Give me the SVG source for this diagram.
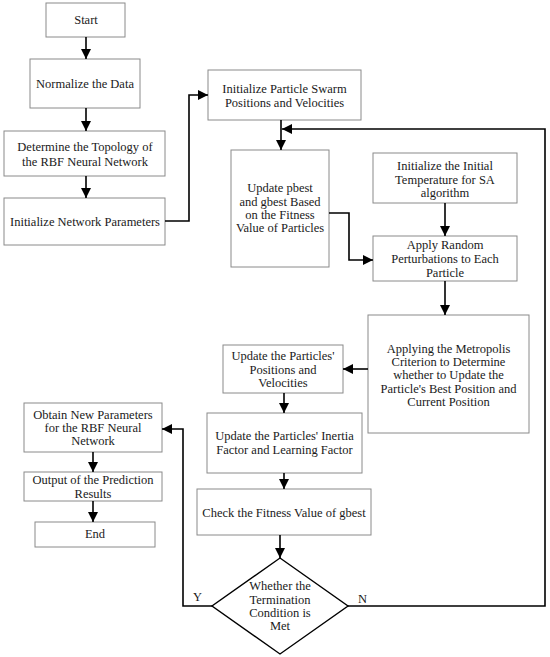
<svg xmlns="http://www.w3.org/2000/svg" width="550" height="657" viewBox="0 0 550 657">
<style>
.box{fill:#fff;stroke:#8a8a8a;stroke-width:1}
.t{font-family:"Liberation Serif","DejaVu Serif",serif;font-size:12.5px;fill:#1a1a1a;text-anchor:middle}
.c{fill:none;stroke:#000;stroke-width:1.6}
.lbl{font-family:"Liberation Serif","DejaVu Serif",serif;font-size:12.5px;fill:#1a1a1a}
</style>
<defs>
<marker id="ah" markerUnits="userSpaceOnUse" markerWidth="12" markerHeight="10" refX="10" refY="5" orient="auto">
<path d="M0,0 L10,5 L0,10 Z" fill="#000"/>
</marker>
</defs>
<rect width="550" height="657" fill="#fff"/>
<g id="start"><rect class="box" x="46" y="3" width="79" height="34"/><text class="t" x="86" y="24">Start</text></g>
<g id="normalize"><rect class="box" x="30" y="59" width="110" height="49"/><text class="t" x="85" y="88">Normalize the Data</text></g>
<g id="topology"><rect class="box" x="4" y="131" width="161" height="45"/><text class="t" x="85" y="151">Determine the Topology of</text><text class="t" x="85" y="166">the RBF Neural Network</text></g>
<g id="initnet"><rect class="box" x="4" y="198" width="161" height="47"/><text class="t" x="85" y="226">Initialize Network Parameters</text></g>
<g id="initpso"><rect class="box" x="208" y="70" width="153" height="50"/><text class="t" x="284.5" y="92.5">Initialize Particle Swarm</text><text class="t" x="284.5" y="106.5">Positions and Velocities</text></g>
<g id="pbest"><rect class="box" x="231" y="150" width="98" height="117"/><text class="t" x="280" y="192">Update pbest</text><text class="t" x="280" y="206">and gbest Based</text><text class="t" x="280" y="219">on the Fitness</text><text class="t" x="280" y="232">Value of Particles</text></g>
<g id="inittemp"><rect class="box" x="373" y="153" width="144" height="50"/><text class="t" x="445" y="170">Initialize the Initial</text><text class="t" x="445" y="183.5">Temperature for SA</text><text class="t" x="445" y="197">algorithm</text></g>
<g id="perturb"><rect class="box" x="373" y="236" width="144" height="45"/><text class="t" x="445" y="249">Apply Random</text><text class="t" x="445" y="263">Perturbations to Each</text><text class="t" x="445" y="277">Particle</text></g>
<g id="metropolis"><rect class="box" x="368" y="315" width="161" height="118"/><text class="t" x="448.5" y="352.5">Applying the Metropolis</text><text class="t" x="448.5" y="366">Criterion to Determine</text><text class="t" x="448.5" y="379">whether to Update the</text><text class="t" x="448.5" y="392.5">Particle's Best Position and</text><text class="t" x="448.5" y="406">Current Position</text></g>
<g id="updatepos"><rect class="box" x="223" y="345" width="120" height="48"/><text class="t" x="283" y="360">Update the Particles'</text><text class="t" x="283" y="373.5">Positions and</text><text class="t" x="283" y="387">Velocities</text></g>
<g id="inertia"><rect class="box" x="207" y="413" width="155" height="60"/><text class="t" x="284.5" y="440">Update the Particles' Inertia</text><text class="t" x="284.5" y="454">Factor and Learning Factor</text></g>
<g id="check"><rect class="box" x="197" y="489" width="174" height="46"/><text class="t" x="284" y="517">Check the Fitness Value of gbest</text></g>
<g id="decision"><polygon points="280,558 348,606 280,654 212,606" fill="#fff" stroke="#000" stroke-width="1.4"/><text class="t" x="280" y="590">Whether the</text><text class="t" x="280" y="603.5">Termination</text><text class="t" x="280" y="617">Condition is</text><text class="t" x="280" y="630">Met</text></g>
<g id="obtain"><rect class="box" x="24" y="403" width="138" height="49"/><text class="t" x="93" y="418.5">Obtain New Parameters</text><text class="t" x="93" y="432">for the RBF Neural</text><text class="t" x="93" y="445">Network</text></g>
<g id="output"><rect class="box" x="24" y="472" width="138" height="29"/><text class="t" x="93" y="484">Output of the Prediction</text><text class="t" x="93" y="497.5">Results</text></g>
<g id="end"><rect class="box" x="35" y="522" width="120" height="25"/><text class="t" x="95" y="538">End</text></g>
<g id="connectors">
<path class="c" d="M86,37 V59" marker-end="url(#ah)"/>
<path class="c" d="M86,108 V131" marker-end="url(#ah)"/>
<path class="c" d="M86,176 V198" marker-end="url(#ah)"/>
<path class="c" d="M165,221 H189 V95 H208" marker-end="url(#ah)"/>
<path class="c" d="M281,120 V150" marker-end="url(#ah)"/>
<path class="c" d="M348,606 H545 V129 H282" marker-end="url(#ah)"/>
<path class="c" d="M445,203 V236" marker-end="url(#ah)"/>
<path class="c" d="M329,213 H349 V260 H373" marker-end="url(#ah)"/>
<path class="c" d="M445,281 V315" marker-end="url(#ah)"/>
<path class="c" d="M368,369 H343" marker-end="url(#ah)"/>
<path class="c" d="M284,393 V413" marker-end="url(#ah)"/>
<path class="c" d="M284,473 V489" marker-end="url(#ah)"/>
<path class="c" d="M280,535 V558" marker-end="url(#ah)"/>
<path class="c" d="M212,606 H183 V429 H162" marker-end="url(#ah)"/>
<path class="c" d="M93,452 V472" marker-end="url(#ah)"/>
<path class="c" d="M93,501 V522" marker-end="url(#ah)"/>
<text class="lbl" x="193" y="601">Y</text>
<text class="lbl" x="358" y="603">N</text>
</g>
</svg>
